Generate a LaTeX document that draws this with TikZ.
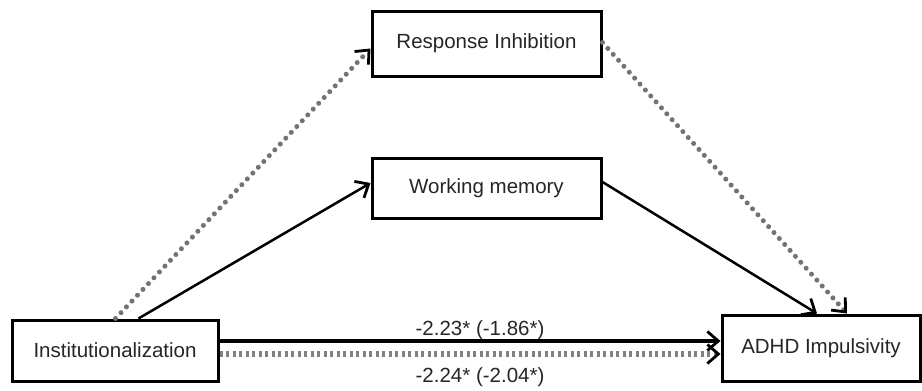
\documentclass[tikz,border=0pt]{standalone}
\usepackage{fontspec}
\setmainfont{Liberation Sans}
\usetikzlibrary{arrows.meta,calc}
\tikzset{
  box/.style={draw=black, line width=3pt, fill=white, inner sep=0pt,
    font=\fontsize{20.5}{24}\selectfont, text=black!85},
  tip/.style={-{Straight Barb[length=11pt,width=19pt,line width=2.8pt,color=black]}},
  solidarrow/.style={tip, line width=2.5pt, black},
  dotarrow/.style={tip, line width=5pt, black!55, line cap=round, dash pattern=on 0pt off 8pt},
  dasharrow/.style={tip, line width=6pt, black!50, dash pattern=on 3pt off 3.5pt},
  lab/.style={font=\fontsize{20.5}{24}\selectfont, text=black!85}
}
\begin{document}
\begin{tikzpicture}[x=1pt,y=-1pt]
\useasboundingbox (0,0) rectangle (922,391);
\node[box, minimum width=206pt, minimum height=61pt] (inst) at (115,350.5) {Institutionalization};
\node[box, minimum width=198pt, minimum height=66pt] (adhd) at (821,348) {ADHD Impulsivity};
\node[box, minimum width=229pt, minimum height=65pt] (ri) at (486.5,43.5) {Response Inhibition};
\node[box, minimum width=229pt, minimum height=60pt] (wm) at (486.5,188) {Working memory};

\draw[dotarrow] ([xshift=105pt]inst.north west) -- ([yshift=-5pt]ri.west);
\draw[solidarrow] ([xshift=128pt]inst.north west) -- ([yshift=5pt]wm.west);
\draw[solidarrow] ([yshift=6pt]wm.east) -- ([xshift=-4pt]adhd.north);
\draw[dotarrow] ([yshift=1pt]ri.east) -- ([xshift=26pt]adhd.north);

\draw[solidarrow, line width=3.5pt] ([yshift=9.5pt]inst.east) -- ([yshift=9.5pt]inst.east -| adhd.west)
  node[lab, above, pos=0.52, inner sep=0pt] (l1) {-2.23* (-1.86*)};
\draw[dasharrow] ([yshift=-3.5pt]inst.east) -- ([yshift=-3.5pt]inst.east -| adhd.west)
  node[lab, below, pos=0.52, inner sep=11pt] (l2) {-2.24* (-2.04*)};
\end{tikzpicture}
\end{document}
